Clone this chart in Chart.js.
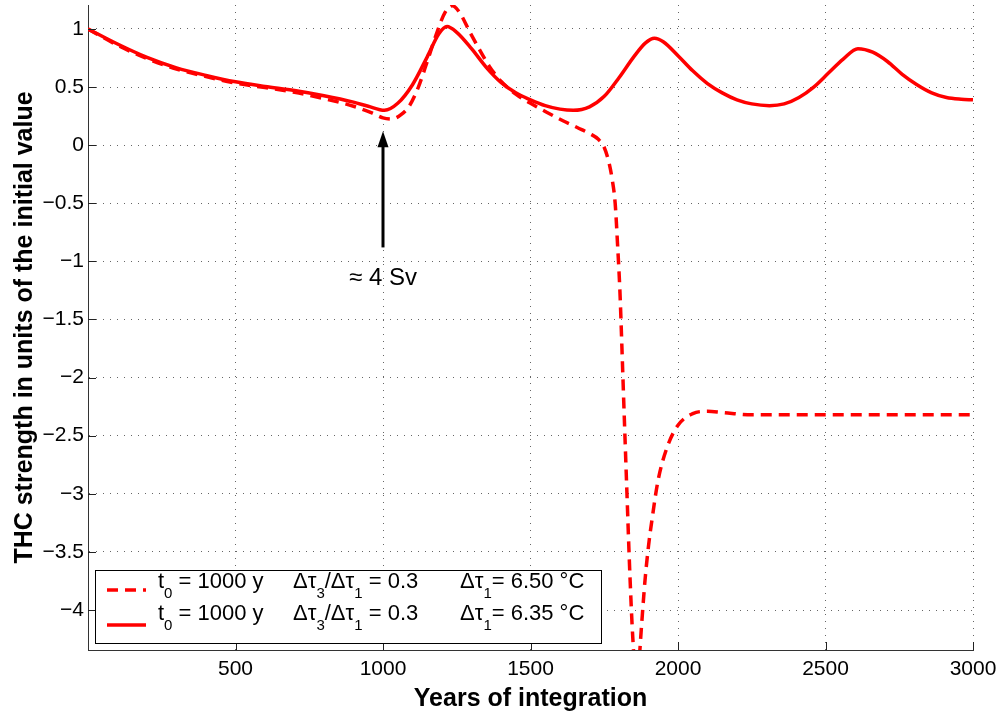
<!DOCTYPE html>
<html>
<head>
<meta charset="utf-8">
<title>THC strength</title>
<script src="https://cdn.jsdelivr.net/npm/chart.js@4/dist/chart.umd.min.js"></script>
<style>
  html, body { margin: 0; padding: 0; background: #fff; }
  #wrap { width: 1003px; height: 719px; }
</style>
</head>
<body>
<div id="wrap"><canvas id="thcChart" width="1003" height="719"></canvas></div>
<script>
// run with delta tau_1 = 6.50 C (collapses after ~1750 y)
const dashedYears = [0, 100, 200, 300, 400, 500, 600, 700, 800, 900, 960, 1000, 1030, 1060, 1090, 1120, 1150, 1180, 1210, 1235, 1260, 1295, 1330, 1360, 1400, 1450, 1500, 1550, 1610, 1660, 1700, 1730, 1750, 1765, 1776, 1787, 1795, 1803, 1810, 1816, 1827, 1837, 1847, 1858, 1866, 1876, 1888, 1900, 1912, 1932, 1963, 2000, 2050, 2100, 2150, 2250, 2500, 3000];
const dashedValues = [1.0, 0.86, 0.745, 0.655, 0.59, 0.535, 0.495, 0.455, 0.40, 0.335, 0.28, 0.235, 0.225, 0.26, 0.34, 0.50, 0.72, 0.95, 1.14, 1.20, 1.14, 0.97, 0.81, 0.68, 0.55, 0.44, 0.36, 0.29, 0.21, 0.15, 0.10, 0.05, -0.02, -0.14, -0.28, -0.50, -0.85, -1.25, -1.75, -2.2, -3.0, -3.7, -4.25, -4.6, -4.5, -4.15, -3.75, -3.45, -3.22, -2.89, -2.60, -2.41, -2.31, -2.29, -2.30, -2.32, -2.32, -2.32];

// run with delta tau_1 = 6.35 C (recovers and oscillates)
const solidYears = [0, 100, 200, 300, 400, 500, 600, 700, 800, 900, 950, 1005, 1050, 1100, 1150, 1190, 1217, 1250, 1300, 1350, 1400, 1450, 1500, 1550, 1600, 1645, 1700, 1750, 1800, 1850, 1890, 1920, 1950, 2000, 2050, 2100, 2150, 2200, 2250, 2310, 2360, 2410, 2460, 2510, 2560, 2610, 2660, 2710, 2760, 2810, 2860, 2910, 2960, 3000];
const solidValues = [1.0, 0.87, 0.755, 0.665, 0.60, 0.545, 0.505, 0.47, 0.425, 0.37, 0.335, 0.30, 0.36, 0.52, 0.76, 0.96, 1.02, 0.97, 0.83, 0.67, 0.54, 0.45, 0.39, 0.34, 0.31, 0.30, 0.33, 0.42, 0.58, 0.76, 0.88, 0.92, 0.89, 0.77, 0.64, 0.53, 0.45, 0.39, 0.355, 0.34, 0.355, 0.41, 0.50, 0.62, 0.74, 0.83, 0.80, 0.72, 0.61, 0.52, 0.45, 0.41, 0.395, 0.39];

const xTickValues = [500, 1000, 1500, 2000, 2500, 3000];
const xTickLabels = ['500', '1000', '1500', '2000', '2500', '3000'];
const yTickValues = [1, 0.5, 0, -0.5, -1, -1.5, -2, -2.5, -3, -3.5, -4];
const yTickLabels = ['1', '0.5', '0', '\u22120.5', '\u22121', '\u22121.5', '\u22122', '\u22122.5', '\u22123', '\u22123.5', '\u22124'];

// legend entries: t0, ratio dtau3/dtau1, dtau1
const legendT0 = ['1000 y', '1000 y'];
const legendRatio = ['0.3', '0.3'];
const legendDtau1 = ['6.50', '6.35'];

// arrow marking the freshwater pulse
const arrowYear = 1000;
const arrowTip = 0.12;
const arrowTail = -0.88;
const arrowText = '\u2248 4 Sv';
const arrowTextValue = -1.2;

const FONT = "'Liberation Sans', Arial, Helvetica, sans-serif";
const RED = '#ff0000';

function toPoints(xs, ys) {
    return xs.map((x, i) => ({ x: x, y: ys[i] }));
}

// inward tick marks on the left and bottom axes
const innerTicks = {
    id: 'innerTicks',
    afterDraw(chart) {
        const ctx = chart.ctx;
        const area = chart.chartArea;
        const xs = chart.scales.x;
        const ys = chart.scales.y;
        ctx.save();
        ctx.strokeStyle = '#222';
        ctx.lineWidth = 1;
        ctx.beginPath();
        xTickValues.forEach(v => {
            const px = Math.round(xs.getPixelForValue(v)) + 0.5;
            ctx.moveTo(px, area.bottom);
            ctx.lineTo(px, area.bottom - 8);
        });
        yTickValues.forEach(v => {
            const py = Math.round(ys.getPixelForValue(v)) + 0.5;
            ctx.moveTo(area.left, py);
            ctx.lineTo(area.left + 8, py);
        });
        ctx.stroke();
        ctx.restore();
    }
};

const pulseArrow = {
    id: 'pulseArrow',
    afterDatasetsDraw(chart) {
        const ctx = chart.ctx;
        const xs = chart.scales.x;
        const ys = chart.scales.y;
        const px = xs.getPixelForValue(arrowYear);
        const tip = ys.getPixelForValue(arrowTip);
        const tail = ys.getPixelForValue(arrowTail);
        ctx.save();
        ctx.strokeStyle = '#000';
        ctx.fillStyle = '#000';
        ctx.lineWidth = 3;
        ctx.beginPath();
        ctx.moveTo(px, tail);
        ctx.lineTo(px, tip + 14);
        ctx.stroke();
        ctx.beginPath();
        ctx.moveTo(px, tip);
        ctx.lineTo(px - 5.5, tip + 16);
        ctx.lineTo(px + 5.5, tip + 16);
        ctx.closePath();
        ctx.fill();
        ctx.font = '24px ' + FONT;
        ctx.textAlign = 'center';
        ctx.textBaseline = 'alphabetic';
        ctx.fillText(arrowText, px, ys.getPixelForValue(arrowTextValue));
        ctx.restore();
    }
};

// draws a run of text pieces, some of them as subscripts
function drawPieces(ctx, pieces, x, y) {
    pieces.forEach(p => {
        if (p.sub) {
            ctx.font = '15px ' + FONT;
            ctx.fillText(p.sub, x, y + 10);
            x += ctx.measureText(p.sub).width;
        } else {
            ctx.font = '22px ' + FONT;
            ctx.fillText(p.t, x, y);
            x += ctx.measureText(p.t).width;
        }
    });
}

const boxLegend = {
    id: 'boxLegend',
    afterDraw(chart) {
        const ctx = chart.ctx;
        const area = chart.chartArea;
        const left = area.left + 7;
        const top = area.bottom - 80;
        const w = 506;
        const h = 73;
        ctx.save();
        ctx.fillStyle = '#fff';
        ctx.fillRect(left, top, w, h);
        ctx.strokeStyle = '#000';
        ctx.lineWidth = 1;
        ctx.strokeRect(Math.round(left) + 0.5, Math.round(top) + 0.5, w, h);

        chart.data.datasets.forEach((ds, i) => {
            const lineY = top + 20 + i * 35;
            const baseY = top + 18 + i * 32;
            ctx.strokeStyle = ds.borderColor;
            ctx.lineWidth = ds.borderWidth;
            ctx.setLineDash(ds.borderDash || []);
            ctx.beginPath();
            ctx.moveTo(left + 12, lineY);
            ctx.lineTo(left + 51, lineY);
            ctx.stroke();
            ctx.setLineDash([]);

            ctx.fillStyle = '#000';
            ctx.textAlign = 'left';
            ctx.textBaseline = 'alphabetic';
            drawPieces(ctx, [{ t: 't' }, { sub: '0' }, { t: ' = ' + legendT0[i] }], left + 63, baseY);
            drawPieces(ctx, [{ t: '\u0394\u03c4' }, { sub: '3' }, { t: '/\u0394\u03c4' }, { sub: '1' }, { t: ' = ' + legendRatio[i] }], left + 198, baseY);
            drawPieces(ctx, [{ t: '\u0394\u03c4' }, { sub: '1' }, { t: '= ' + legendDtau1[i] + ' \u00b0C' }], left + 365, baseY);
        });
        ctx.restore();
    }
};

const ctx = document.getElementById('thcChart').getContext('2d');
const thcChart = new Chart(ctx, {
    type: 'line',
    data: {
        datasets: [{
            label: '\u0394\u03c41 = 6.50 \u00b0C',
            data: toPoints(dashedYears, dashedValues),
            borderColor: RED,
            borderWidth: 3.5,
            borderDash: [11, 7],
            pointRadius: 0,
            cubicInterpolationMode: 'monotone',
            fill: false
        }, {
            label: '\u0394\u03c41 = 6.35 \u00b0C',
            data: toPoints(solidYears, solidValues),
            borderColor: RED,
            borderWidth: 3.5,
            pointRadius: 0,
            cubicInterpolationMode: 'monotone',
            fill: false
        }]
    },
    options: {
        responsive: false,
        animation: false,
        devicePixelRatio: 1,
        layout: { padding: { top: 5, right: 30, left: 0, bottom: 0 } },
        scales: {
            x: {
                type: 'linear',
                min: 0,
                max: 3000,
                afterBuildTicks: scale => { scale.ticks = xTickValues.map(v => ({ value: v })); },
                afterFit: scale => { scale.height = 69; scale.paddingLeft = 0; scale.paddingRight = 0; },
                ticks: {
                    autoSkip: false,
                    maxRotation: 0,
                    padding: 7,
                    color: '#000',
                    font: { size: 21, family: FONT },
                    callback: (v, i) => xTickLabels[i]
                },
                grid: { color: '#666', lineWidth: 1, drawTicks: false },
                border: { display: true, color: '#333', width: 1, dash: [1, 6] },
                title: {
                    display: true,
                    text: 'Years of integration',
                    color: '#000',
                    font: { size: 25, weight: 'bold', family: FONT },
                    padding: { top: 0, bottom: 5 }
                }
            },
            y: {
                min: -4.344,
                max: 1.206,
                afterBuildTicks: scale => { scale.ticks = yTickValues.map(v => ({ value: v })); },
                afterFit: scale => { scale.width = 88; scale.paddingTop = 0; scale.paddingBottom = 0; },
                ticks: {
                    autoSkip: false,
                    padding: 4,
                    color: '#000',
                    font: { size: 21, family: FONT },
                    callback: (v, i) => yTickLabels[i]
                },
                grid: { color: '#666', lineWidth: 1, drawTicks: false },
                border: { display: true, color: '#333', width: 1, dash: [1, 6] },
                title: {
                    display: true,
                    text: 'THC strength in units of the initial value',
                    color: '#000',
                    font: { size: 25, weight: 'bold', family: FONT },
                    padding: { top: 10, bottom: 0 }
                }
            }
        },
        plugins: {
            legend: { display: false },
            tooltip: { enabled: false }
        }
    },
    plugins: [innerTicks, pulseArrow, boxLegend]
});
</script>
</body>
</html>
